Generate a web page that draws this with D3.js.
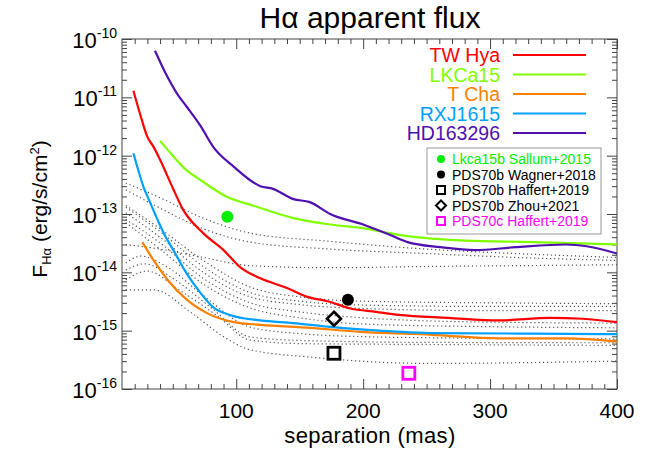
<!DOCTYPE html>
<html>
<head>
<meta charset="utf-8">
<script src="https://cdn.jsdelivr.net/npm/d3@7"></script>
<style>
  body { margin: 0; background: #fff; }
  svg { display: block; font-family: "Liberation Sans", Arial, Helvetica, sans-serif; }
</style>
</head>
<body>
<svg id="chart" width="654" height="467"></svg>
<script>
// Contrast curves (separation in mas, flux in erg/s/cm^2)
const seriesNames = ['TW Hya', 'LKCa15', 'T Cha', 'RXJ1615', 'HD163296'];
const seriesColors = ['#ff0000', '#80ff00', '#ff8000', '#00a0ff', '#5010b0'];

const twHya = [[19, 1.3e-11], [24, 5.4e-12], [30, 2.1e-12], [35, 1.4e-12], [40, 8.5e-13], [50, 2.8e-13],
  [58, 1.2e-13], [74, 4.7e-14], [90, 2.4e-14], [103, 1.23e-14], [119, 7.9e-15], [140, 5.4e-15],
  [156, 3.8e-15], [172, 3.2e-15], [190, 2.4e-15], [210, 2.1e-15], [228, 1.86e-15], [267, 1.66e-15],
  [307, 1.5e-15], [347, 1.66e-15], [373, 1.6e-15], [400, 1.4e-15]];
const lkca15 = [[40, 1.8e-12], [50, 1.0e-12], [61, 5.6e-13], [72, 3.8e-13], [93, 1.95e-13], [113, 1.4e-13],
  [145, 8.5e-14], [174, 6.6e-14], [198, 5.8e-14], [228, 4.4e-14], [280, 3.5e-14], [334, 3.3e-14], [400, 3.0e-14]];
const tCha = [[26, 3.3e-14], [35, 1.6e-14], [46, 7.4e-15], [61, 3.4e-15], [77, 2.0e-15], [98, 1.4e-15],
  [119, 1.26e-15], [158, 1.12e-15], [198, 9.5e-16], [254, 8.5e-16], [307, 7.4e-16], [360, 7.4e-16], [400, 6.5e-16]];
const rxj1615 = [[19, 1.1e-12], [22, 6.5e-13], [27, 2.9e-13], [32, 1.6e-13], [38, 8e-14], [44, 4.2e-14],
  [50, 2.5e-14], [61, 9.5e-15], [72, 4.4e-15], [82, 2.5e-15], [95, 1.86e-15], [119, 1.5e-15],
  [145, 1.35e-15], [172, 1.17e-15], [198, 1.05e-15], [254, 9.1e-16], [334, 8.9e-16], [400, 8.7e-16]];
const hd163296 = [[36, 6.3e-11], [46, 2.2e-11], [54, 1.1e-11], [61, 6.9e-12], [72, 3.2e-12], [82, 1.4e-12],
  [98, 6.5e-13], [119, 3.0e-13], [129, 2.7e-13], [145, 1.8e-13], [158, 1.6e-13], [174, 1.0e-13],
  [201, 6.5e-14], [220, 4.5e-14], [235, 3.3e-14], [261, 2.7e-14], [288, 2.4e-14], [320, 2.7e-14],
  [360, 3.0e-14], [376, 2.8e-14], [400, 2.1e-14]];
const seriesData = [twHya, lkca15, tCha, rxj1615, hd163296];

// Other targets (grey dotted)
const otherTargets = [
  [[13, 3.4e-13], [40, 1.9e-13], [74, 8.5e-14], [111, 4.7e-14], [174, 3.4e-14], [250, 2.5e-14], [320, 2.1e-14], [400, 1.8e-14]],
  [[13, 2.6e-13], [40, 1.26e-13], [74, 5.6e-14], [111, 3.3e-14], [174, 2.5e-14], [250, 2.1e-14], [320, 1.8e-14], [400, 1.6e-14]],
  [[13, 3.0e-14], [40, 2.5e-14], [74, 1.8e-14], [111, 1.3e-14], [174, 1.2e-14], [250, 1.26e-14], [320, 1.3e-14], [400, 1.35e-14]],
  [[13, 1.4e-13], [40, 5.6e-14], [74, 1.6e-14], [111, 5.6e-15], [150, 3.8e-15], [200, 3.2e-15], [300, 3.0e-15], [400, 2.9e-15]],
  [[13, 1.3e-13], [40, 5.0e-14], [74, 1.26e-14], [111, 4.5e-15], [150, 3.2e-15], [200, 2.75e-15], [300, 2.6e-15], [400, 2.6e-15]],
  [[13, 1.05e-13], [40, 4.0e-14], [74, 1.0e-14], [111, 3.8e-15], [150, 2.8e-15], [200, 2.4e-15], [300, 2.2e-15], [400, 2.2e-15]],
  [[13, 8.1e-14], [40, 3.2e-14], [74, 7.9e-15], [111, 3.0e-15], [150, 2.1e-15], [200, 1.66e-15], [300, 1.4e-15], [400, 1.35e-15]],
  [[13, 7.1e-14], [40, 2.5e-14], [74, 6.3e-15], [111, 2.45e-15], [150, 1.66e-15], [200, 1.3e-15], [300, 1.17e-15], [400, 1.12e-15]],
  [[13, 1.45e-14], [25, 1.9e-14], [45, 1.26e-14], [74, 4.0e-15], [111, 1.15e-15], [150, 8.9e-16], [200, 7.9e-16], [300, 7.4e-16], [400, 7.2e-16]],
  [[13, 1.1e-14], [28, 1.4e-14], [50, 7.9e-15], [80, 2.5e-15], [111, 7.8e-16], [150, 6.8e-16], [250, 6.3e-16], [400, 6.2e-16]],
  [[13, 7.4e-15], [30, 1.05e-14], [55, 5.0e-15], [85, 1.8e-15], [111, 6.9e-16], [150, 6.0e-16], [250, 5.8e-16], [400, 5.6e-16]],
  [[13, 5.0e-15], [35, 5.0e-15], [65, 2.0e-15], [90, 7.9e-16], [111, 4.7e-16], [160, 3.5e-16], [250, 2.75e-16], [400, 3.0e-16]]
];

// Detected companions
const planetNames = ['Lkca15b Sallum+2015', 'PDS70b Wagner+2018', 'PDS70b Haffert+2019', 'PDS70b Zhou+2021', 'PDS70c Haffert+2019'];
const planetSep = [93, 188, 177, 177, 236];
const planetFlux = [9e-14, 3.4e-15, 4.1e-16, 1.6e-15, 1.86e-16];
const planetSymbols = ['dot', 'dot', 'square', 'diamond', 'square'];
const planetColors = ['#00ee00', '#000000', '#000000', '#000000', '#ff00ff'];

const xMajor = [100, 200, 300, 400];
const yExponents = [-16, -15, -14, -13, -12, -11, -10];

const svg = d3.select('#chart');
const plotLeft = 122, plotRight = 617, plotTop = 39, plotBottom = 389;

const x = d3.scaleLinear().domain([10, 400]).range([plotLeft, plotRight]);
const y = d3.scaleLog().domain([1e-16, 1e-10]).range([plotBottom, plotTop]);

// Frame and ticks (inward, all four sides)
const xMinor = d3.range(20, 400, 10).filter((d) => !xMajor.includes(d));
const yMajor = yExponents.map((e) => Math.pow(10, e));
const yMinor = y.ticks().filter((d) => !yMajor.some((m) => Math.abs(d / m - 1) < 1e-6));

function addAxis(axisFn, scale, values, size, transform) {
  svg.append('g')
    .attr('transform', transform)
    .attr('color', '#444')
    .call(axisFn(scale).tickValues(values).tickSize(-size).tickSizeOuter(0).tickFormat(''))
    .call((g) => g.select('.domain').remove());
}
addAxis(d3.axisBottom, x, xMajor, 10, `translate(0,${plotBottom})`);
addAxis(d3.axisBottom, x, xMinor, 5, `translate(0,${plotBottom})`);
addAxis(d3.axisTop, x, xMajor, 10, `translate(0,${plotTop})`);
addAxis(d3.axisTop, x, xMinor, 5, `translate(0,${plotTop})`);
addAxis(d3.axisLeft, y, yMajor, 10, `translate(${plotLeft},0)`);
addAxis(d3.axisLeft, y, yMinor, 5, `translate(${plotLeft},0)`);
addAxis(d3.axisRight, y, yMajor, 10, `translate(${plotRight},0)`);
addAxis(d3.axisRight, y, yMinor, 5, `translate(${plotRight},0)`);

svg.append('rect')
  .attr('x', plotLeft).attr('y', plotTop)
  .attr('width', plotRight - plotLeft).attr('height', plotBottom - plotTop)
  .attr('fill', 'none').attr('stroke', '#444').attr('stroke-width', 1);

// Tick labels
svg.append('g').selectAll('text')
  .data(xMajor)
  .join('text')
  .attr('x', (d) => x(d))
  .attr('y', plotBottom + 29)
  .attr('text-anchor', 'middle')
  .attr('font-size', 21)
  .text((d) => d);

yExponents.forEach((e) => {
  const t = svg.append('text')
    .attr('x', 117)
    .attr('y', y(Math.pow(10, e)) + 9)
    .attr('text-anchor', 'end')
    .attr('font-size', 22);
  t.append('tspan').text('10');
  t.append('tspan').attr('dy', -10).attr('font-size', 14).text(String(e));
});

// Titles
svg.append('text')
  .attr('x', 370).attr('y', 28)
  .attr('text-anchor', 'middle')
  .attr('font-size', 30)
  .text('H\u03b1 apparent flux');

svg.append('text')
  .attr('x', 370).attr('y', 443)
  .attr('text-anchor', 'middle')
  .attr('font-size', 22)
  .attr('letter-spacing', 0.4)
  .text('separation (mas)');

const yl = svg.append('text')
  .attr('transform', 'translate(47,209) rotate(-90)')
  .attr('text-anchor', 'middle')
  .attr('font-size', 21);
yl.append('tspan').text('F');
yl.append('tspan').attr('font-size', 13).attr('dy', 4).text('H\u03b1');
yl.append('tspan').attr('dy', -4).text(' (erg/s/cm');
yl.append('tspan').attr('font-size', 13).attr('dy', -8).text('2');
yl.append('tspan').attr('dy', 8).text(')');

// Curves
svg.append('clipPath').attr('id', 'plot')
  .append('rect').attr('x', plotLeft).attr('y', plotTop)
  .attr('width', plotRight - plotLeft).attr('height', plotBottom - plotTop);

const line = d3.line().x((d) => x(d[0])).y((d) => y(d[1])).curve(d3.curveMonotoneX);
const curves = svg.append('g').attr('clip-path', 'url(#plot)');

curves.selectAll('path.other')
  .data(otherTargets)
  .join('path')
  .attr('class', 'other')
  .attr('d', line)
  .attr('fill', 'none')
  .attr('stroke', '#555')
  .attr('stroke-width', 1.2)
  .attr('stroke-dasharray', '1.2,2.8');

curves.selectAll('path.series')
  .data(seriesData)
  .join('path')
  .attr('class', 'series')
  .attr('d', line)
  .attr('fill', 'none')
  .attr('stroke', (d, i) => seriesColors[i])
  .attr('stroke-width', 2.2)
  .attr('stroke-linejoin', 'round');

// Companion markers
function drawSymbol(g, kind, cx, cy, color, size) {
  if (kind === 'dot') {
    g.append('circle').attr('cx', cx).attr('cy', cy).attr('r', size / 2).attr('fill', color);
  } else if (kind === 'square') {
    g.append('rect')
      .attr('x', cx - size / 2).attr('y', cy - size / 2)
      .attr('width', size).attr('height', size)
      .attr('fill', 'none').attr('stroke', color).attr('stroke-width', size > 8 ? 2.8 : 2);
  } else {
    const h = size / 2 + 1;
    g.append('path')
      .attr('d', `M${cx},${cy - h}L${cx + h},${cy}L${cx},${cy + h}L${cx - h},${cy}Z`)
      .attr('fill', 'none').attr('stroke', color).attr('stroke-width', size > 8 ? 2.6 : 2);
  }
}

const marks = svg.append('g');
planetNames.forEach((name, i) => {
  drawSymbol(marks, planetSymbols[i], x(planetSep[i]), y(planetFlux[i]), planetColors[i], 12);
});

// Legend for curves
const leg = svg.append('g');
seriesNames.forEach((name, i) => {
  const cy = 55 + i * 19.5;
  leg.append('text')
    .attr('x', 500).attr('y', cy + 7)
    .attr('text-anchor', 'end')
    .attr('font-size', 19.5)
    .attr('fill', seriesColors[i])
    .text(name);
  leg.append('line')
    .attr('x1', 513).attr('x2', 586).attr('y1', cy).attr('y2', cy)
    .attr('stroke', seriesColors[i]).attr('stroke-width', 2.2);
});

// Legend for companions
const leg2 = svg.append('g');
leg2.append('rect')
  .attr('x', 427).attr('y', 148).attr('width', 174).attr('height', 86)
  .attr('fill', '#fff').attr('stroke', '#999').attr('stroke-width', 1);
planetNames.forEach((name, i) => {
  const cy = 159 + i * 15.5;
  drawSymbol(leg2, planetSymbols[i], 441, cy, planetColors[i], 8);
  leg2.append('text')
    .attr('x', 452).attr('y', cy + 5)
    .attr('font-size', 14)
    .attr('fill', planetColors[i])
    .text(name);
});
</script>
</body>
</html>
